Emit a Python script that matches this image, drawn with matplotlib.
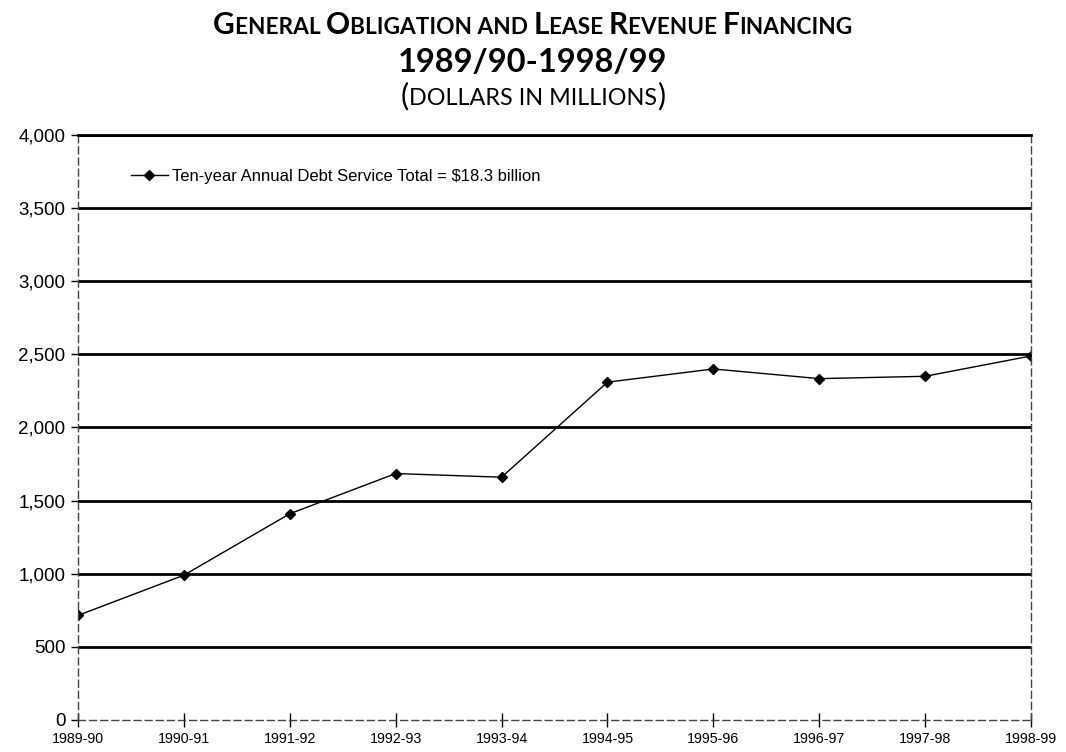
import matplotlib
matplotlib.use('Agg')
import matplotlib.pyplot as plt

# data (dollars in millions)
years = ['1989-90', '1990-91', '1991-92', '1992-93', '1993-94',
         '1994-95', '1995-96', '1996-97', '1997-98', '1998-99']
debt_service = [715, 990, 1410, 1685, 1660, 2310, 2400, 2334, 2350, 2489]
y_ticks = [0, 500, 1000, 1500, 2000, 2500, 3000, 3500, 4000]
legend_label = 'Ten-year Annual Debt Service Total = $18.3 billion'

fig = plt.figure(figsize=(10.66, 7.52), dpi=100)
ax = fig.add_axes([0.0732, 0.0426, 0.8940, 0.7779])

x = list(range(len(years)))
ax.plot(x, debt_service, color='black', linewidth=1, marker='D', markersize=5,
        label=legend_label)

ax.set_xlim(0, len(years) - 1)
ax.set_ylim(0, 4000)
ax.set_yticks(y_ticks)
ax.set_yticklabels([f'{v:,}' for v in y_ticks], family='Liberation Sans', fontsize=13.5)
ax.set_xticks(x)
ax.set_xticklabels(years, family='Liberation Sans', fontsize=10.3)

# horizontal gridlines
for v in y_ticks[1:]:
    ax.axhline(v, color='black', linewidth=2, zorder=1)

for side in ['left', 'bottom', 'right']:
    ax.spines[side].set_linestyle((0, (5, 3)))
    ax.spines[side].set_color('#444444')
    ax.spines[side].set_linewidth(1)
ax.spines['top'].set_linewidth(2)

ax.tick_params(axis='y', direction='out', length=5, width=1, pad=4)
ax.tick_params(axis='x', direction='inout', length=10, width=1, pad=4)

leg = ax.legend(loc='upper left', bbox_to_anchor=(0.040, 0.968), frameon=False,
                prop={'family': 'Liberation Sans', 'size': 12}, handlelength=2.2,
                handletextpad=0.25)


# small caps title helper
def small_caps_line(pieces, y, weight):
    fig.canvas.draw()
    r = fig.canvas.get_renderer()
    texts = []
    widths = []
    for s, size in pieces:
        t = fig.text(0, y, s, fontsize=size, family='Lato', weight=weight,
                     va='baseline', ha='left')
        texts.append(t)
        widths.append(t.get_window_extent(renderer=r).width)
    total = sum(widths)
    xpos = (fig.bbox.width - total) / 2 / fig.bbox.width
    for t, w in zip(texts, widths):
        t.set_x(xpos)
        xpos += w / fig.bbox.width


big, small = 21.5, 16.3
line1 = [('G', big), ('ENERAL ', small), ('O', big), ('BLIGATION AND ', small),
         ('L', big), ('EASE ', small), ('R', big), ('EVENUE ', small),
         ('F', big), ('INANCING', small)]
small_caps_line(line1, 0.955, 'bold')
fig.text(0.5, 0.904, '1989/90-1998/99', fontsize=23.5, family='Lato', weight='bold',
         ha='center', va='baseline')
line3 = [('(', 22), ('DOLLARS IN MILLIONS', 16.8), (')', 22)]
small_caps_line(line3, 0.860, 'normal')

fig.savefig('out.png', dpi=100)
